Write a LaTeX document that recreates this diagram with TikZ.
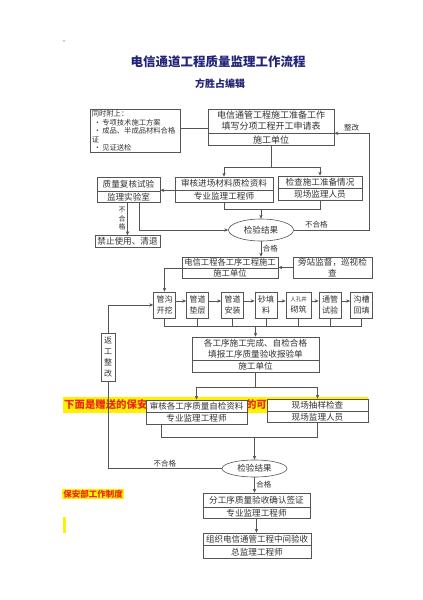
\documentclass[tikz,border=0pt]{standalone}
\usepackage{fontspec}
\setmainfont{Noto Sans CJK SC}
\usepackage{tikz}
\usetikzlibrary{
    arrows.meta,
    positioning,
    shapes.geometric
}
\definecolor{linegray}{RGB}{85,85,85}
\definecolor{textgray}{RGB}{50,50,50}
\definecolor{titlenavy}{RGB}{35,35,120}
\definecolor{markred}{RGB}{235,40,20}
\definecolor{markyellow}{RGB}{255,242,0}
\newcommand{\fsz}[2]{\fontsize{#1}{#2}\selectfont}

\begin{document}
\begin{tikzpicture}[
    x=1pt, y=-1pt,
    box/.style={rectangle, draw=linegray, line width=0.6pt, fill=white, text=textgray, inner sep=0pt, align=center, font=\fsz{8.6}{10.5}},
    cell/.style={box, minimum width=22, minimum height=26, font=\fsz{8}{11}},
    check/.style={ellipse, draw=linegray, line width=0.6pt, fill=white, text=textgray, inner sep=0pt, font=\fsz{8.6}{10}},
    link/.style={draw=linegray, line width=0.6pt},
    arrow/.style={-{Stealth[length=4pt, width=3.4pt]}, draw=linegray, line width=0.6pt},
    lbl/.style={font=\fsz{7.5}{9}, text=textgray, inner sep=1.5pt}
]
\useasboundingbox (0,0) rectangle (423,600);

% === TITLE ===
\fill[textgray] (64,41) circle (0.7);
\node[font=\fsz{12.5}{14}\bfseries, text=titlenavy] (title) at (218,62) {电信通道工程质量监理工作流程};
\node[font=\fsz{10}{12}\bfseries, text=titlenavy] (editor) at (220,84) {方胜占编辑};

% === HIGHLIGHTED TEXT (behind the chart) ===
\fill[markyellow] (63,397) rectangle (368,413);
\node[font=\fsz{10.4}{12}\bfseries, text=markred, anchor=west, inner sep=0pt] (gift) at (64,405) {下面是赠送的保安};
\node[font=\fsz{10.4}{12}\bfseries, text=markred, anchor=east, inner sep=0pt] (giftB) at (267,405) {的可};
\node[fill=markyellow, font=\fsz{8.5}{10}\bfseries, text=markred, inner sep=1pt] (rules) at (93,494) {保安部工作制度};
\fill[markyellow] (63,517) rectangle (66,533);

% === PREPARATION (top) ===
\node[box, text width=87, align=left, font=\fsz{7.3}{8.4}, inner xsep=1.5pt, inner ysep=1.5pt, anchor=north west] (note) at (90,109) {同时附上：\\
\mbox{\hspace*{2pt}•\,专项技术施工方案}\\
\mbox{\hspace*{2pt}•\,成品、半成品材料合格}\\
证\\
\mbox{\hspace*{2pt}•\,见证送检}};

\node[box, minimum width=126, minimum height=24, font=\fsz{9}{11}] (prepA) at (271,121) {电信通管工程施工准备工作\\填写分项工程开工申请表};
\node[box, minimum width=126, minimum height=12, font=\fsz{9}{11}, below=0pt of prepA] (prepB) {施工单位};

\node[box, minimum width=98, minimum height=13] (shenheA) at (224,183.5) {审核进场材料质检资料};
\node[box, minimum width=98, minimum height=12, below=0pt of shenheA] (shenheB) {专业监理工程师};
\node[box, minimum width=84, minimum height=12] (jianchaA) at (320,182) {检查施工准备情况};
\node[box, minimum width=84, minimum height=12, below=0pt of jianchaA] (jianchaB) {现场监理人员};
\node[box, minimum width=63, minimum height=14] (fuheA) at (128.5,184) {质量复核试验};
\node[box, minimum width=63, minimum height=11, below=0pt of fuheA] (fuheB) {监理实验室};
\node[box, minimum width=65, minimum height=12] (jinzhi) at (127.5,241.5) {禁止使用、清退};
\node[check, minimum width=65, minimum height=22] (resultA) at (261,230) {检验结果};

% === CONSTRUCTION STEPS (middle) ===
\node[box, minimum width=96, minimum height=11, font=\fsz{8.3}{10}] (gexuA) at (230,262.5) {电信工程各工序工程施工};
\node[box, minimum width=96, minimum height=10, font=\fsz{8.3}{10}, below=0pt of gexuA] (gexuB) {施工单位};
\node[box, minimum width=79, minimum height=21] (pangzhan) at (332.5,267.5) {旁站监督，巡视检\\查};

\node[cell] (guangou) at (164.5,305) {管沟\\开挖};
\node[cell] (diancen) at (197.5,305) {管道\\垫层};
\node[cell] (anzhuang) at (232.5,305) {管道\\安装};
\node[cell] (shatian) at (266,305) {砂填\\料};
\node[cell, minimum width=25] (renkong) at (298.5,305) {{\fsz{5.5}{7}人孔井}\\砌筑};
\node[cell] (tongguan) at (330,305) {通管\\试验};
\node[cell] (huitian) at (361.5,305) {沟槽\\回填};

\node[box, minimum width=14, minimum height=48, font=\fsz{8}{11}] (fangong) at (108,357) {返\\工\\整\\改};

\node[box, minimum width=127, minimum height=23] (wanchengA) at (255.5,348.5) {各工序施工完成、自检合格\\填报工序质量验收报验单};
\node[box, minimum width=127, minimum height=12, below=0pt of wanchengA] (wanchengB) {施工单位};

% === ACCEPTANCE (bottom) ===
\node[box, minimum width=101, minimum height=12, font=\fsz{8.5}{10}] (shenhe2A) at (196.5,406) {审核各工序质量自检资料};
\node[box, minimum width=101, minimum height=12, below=0pt of shenhe2A] (shenhe2B) {专业监理工程师};
\node[box, minimum width=101, minimum height=12] (chouyangA) at (317.5,405) {现场抽样检查};
\node[box, minimum width=101, minimum height=11, below=0pt of chouyangA] (chouyangB) {现场监理人员};
\node[check, minimum width=65, minimum height=17] (resultB) at (254.5,468.5) {检验结果};
\node[box, minimum width=107, minimum height=14] (qianzhengA) at (256.5,500) {分工序质量验收确认签证};
\node[box, minimum width=107, minimum height=11, below=0pt of qianzhengA] (qianzhengB) {专业监理工程师};
\node[box, minimum width=108, minimum height=12, font=\fsz{8.5}{10}] (yanshouA) at (257,539) {组织电信通管工程中间验收};
\node[box, minimum width=108, minimum height=13, below=0pt of yanshouA] (yanshouB) {总监理工程师};

% Junctions
\coordinate (splitA) at (271,167);
\coordinate (joinA) at (261,209);
\coordinate (loopR) at (369,230);
\coordinate (bus) at (255.5,326);
\coordinate (splitB) at (255.5,387);
\coordinate (joinB) at (254.5,437);

% Connections (top)
\draw[link] ([yshift=3]note.east) -- ([yshift=3]note.east -| prepA.west);
\draw[link] (prepB.south) -- (splitA);
\draw[arrow] (splitA) -| (shenheA.north);
\draw[arrow] (splitA) -| (jianchaA.north);
\draw[arrow] (resultA.east) -- (loopR) node[lbl, pos=0.3, above] {不合格}
    |- (prepA.south east) node[lbl, pos=0.75, above] {整改};
\draw[arrow] (shenheA.south west) -- (shenheA.south west -| fuheA.east);
\draw[arrow] (fuheB.south -| jinzhi.north) -- (jinzhi.north)
    node[lbl, midway, left, align=center, font=\fsz{7}{8.5}] {不\\合\\格};
\draw[arrow] ([xshift=11]fuheB.south) |- (resultA.west);
\draw[link] (shenheB.south) |- (joinA);
\draw[link] (jianchaB.south) |- (joinA);
\draw[arrow] (joinA) -- (resultA.north);
\draw[arrow] (resultA.south) -- (resultA.south |- gexuA.north) node[lbl, midway, right] {合格};

% Connections (middle)
\draw[arrow] (pangzhan.west) -- (pangzhan.west -| gexuA.east);
\draw[arrow] (gexuB.north west) -| (guangou.north);
\draw[arrow] ([yshift=4]guangou.east) -- ([yshift=4]diancen.west);
\draw[arrow] ([yshift=4]diancen.east) -- ([yshift=4]anzhuang.west);
\draw[arrow] ([yshift=4]anzhuang.east) -- ([yshift=4]shatian.west);
\draw[arrow] ([yshift=4]shatian.east) -- ([yshift=4]renkong.west);
\draw[arrow] ([yshift=4]renkong.east) -- ([yshift=4]tongguan.west);
\draw[arrow] ([yshift=4]tongguan.east) -- ([yshift=4]huitian.west);
\draw[link] (guangou.south) |- (bus);
\draw[link] (diancen.south) |- (bus);
\draw[link] (anzhuang.south) |- (bus);
\draw[link] (shatian.south) |- (bus);
\draw[link] (renkong.south) |- (bus);
\draw[link] (tongguan.south) |- (bus);
\draw[link] (huitian.south) |- (bus);
\draw[arrow] (bus) -- (wanchengA.north);
\draw[arrow] (fangong.north) |- (guangou.west);

% Connections (bottom)
\draw[link] (wanchengB.south) -- (splitB);
\draw[arrow] (splitB) -| (shenhe2A.north);
\draw[arrow] (splitB) -| (chouyangA.north);
\draw[link] ([xshift=-35]shenhe2B.south) |- (joinB);
\draw[link] (chouyangB.south) |- (joinB);
\draw[arrow] (joinB) -- (resultB.north);
\draw[link] (resultB.west) -| (fangong.south) node[lbl, pos=0.25, above] {不合格};
\draw[arrow] (resultB.south) -- (resultB.south |- qianzhengA.north) node[lbl, midway, right] {合格};
\draw[arrow] (qianzhengB.south) -- (qianzhengB.south |- yanshouA.north);

\end{tikzpicture}
\end{document}
